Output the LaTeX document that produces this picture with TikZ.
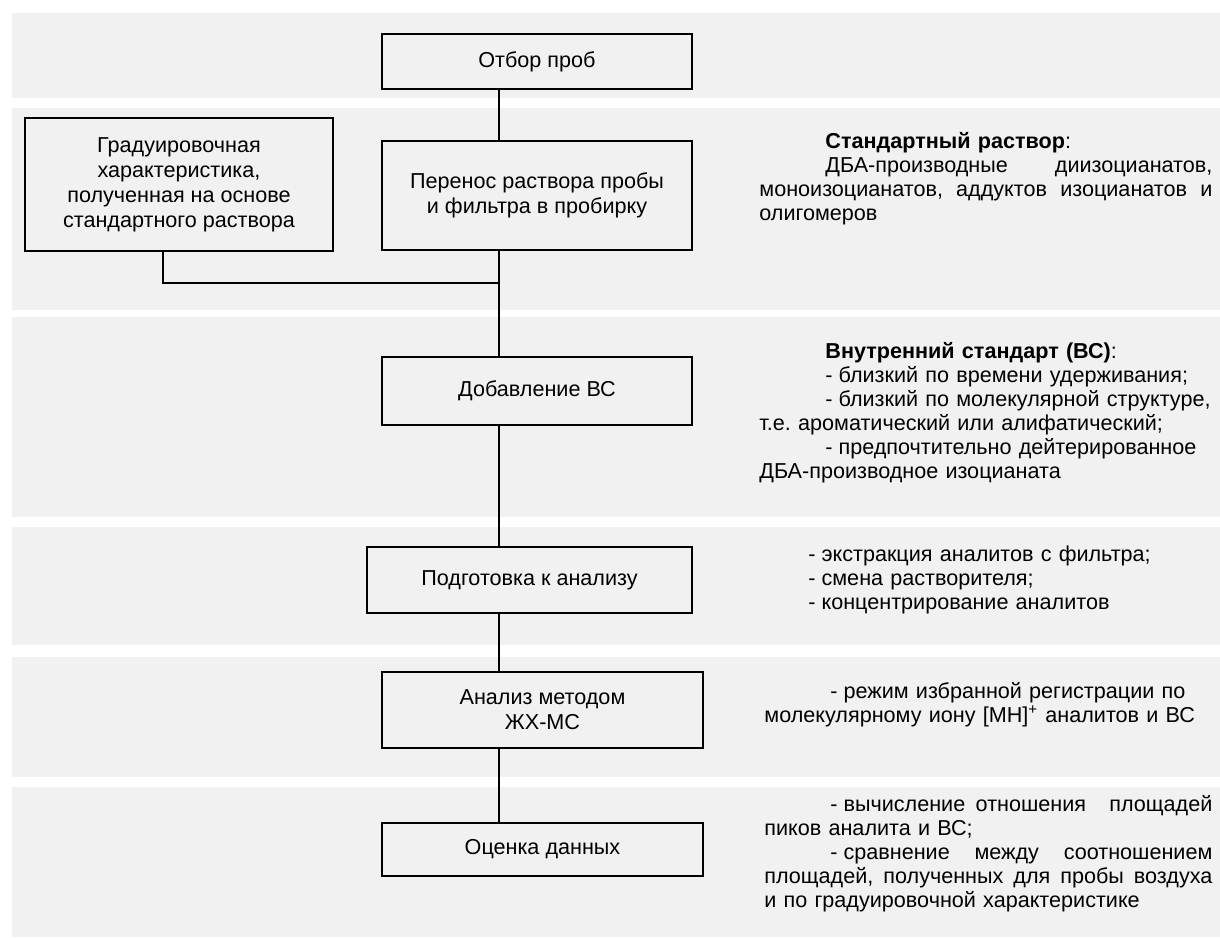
\documentclass[tikz,border=0pt]{standalone}
\usepackage{fontspec}
\setmainfont{Liberation Sans}
\usepackage{xcolor}
\definecolor{bandgray}{HTML}{F1F1F1}
% stretched (justified) line of given width
\newcommand{\jline}[2]{\leavevmode\hbox to #1{\spaceskip=0.28em plus 1fil\relax #2}}
% dash with a fixed space after it
\newcommand{\dsh}{-\kern3pt}
\frenchspacing

\begin{document}
\begin{tikzpicture}[x=0.5pt,y=-0.5pt,
	stage/.style={draw,line width=1pt,align=center,inner sep=0pt,font=\fontsize{10.8}{12.5}\selectfont},
	note/.style={anchor=north west,inner sep=0pt,align=left,font=\fontsize{10.8}{12}\selectfont\frenchspacing},
	link/.style={line width=1pt}]
		\useasboundingbox (0,0) rectangle (1220,937);
		% background bands
		\foreach \ya/\yb in {13/98,108/310,317/517,527/645,657/777,787/937}
			\fill [bandgray] (12,\ya) rectangle (1220,\yb);
		% stages
		\node [stage,minimum width=155pt,minimum height=27.5pt] (otbor) at (537,61.5) {Отбор проб};
		\node [stage,minimum width=155pt,minimum height=54.5pt] (perenos) at (537,195.5) {Перенос раствора пробы\\и фильтра в пробирку};
		\node [stage,minimum width=154pt,minimum height=66.5pt] (grad) at (179,184.5) {Градуировочная\\характеристика,\\полученная на основе\\стандартного раствора};
		\node [stage,minimum width=155pt,minimum height=34pt] (dobav) at (537,391) {Добавление ВС};
		\node [stage,minimum width=162.5pt,minimum height=33pt] (podgot) at (529.5,580) {Подготовка к анализу};
		\node [stage,minimum width=160.5pt,minimum height=38pt] (analiz) at (542.5,710) {Анализ методом\\ЖХ-МС};
		\node [stage,minimum width=160.5pt,minimum height=26.5pt] (ocenka) at (542.5,849.5) {Оценка данных};
		% connectors
		\coordinate (spine) at (499,0);
		\coordinate (gradtap) at (163,283);
		\draw [link] (otbor.south -| spine) -- (perenos.north -| spine);
		\draw [link] (perenos.south -| spine) -- (dobav.north -| spine);
		\draw [link] (gradtap |- grad.south) -- (gradtap) -- (gradtap -| spine);
		\draw [link] (dobav.south -| spine) -- (podgot.north -| spine);
		\draw [link] (podgot.south -| spine) -- (analiz.north -| spine);
		\draw [link] (analiz.south -| spine) -- (ocenka.north -| spine);
		% notes on the right
		\node [note,text width=226.5pt] (stdnote) at (759,131) {\strut\hspace*{33pt}\textbf{Стандартный раствор}:\\
			\hspace*{33pt}\jline{193.5pt}{ДБА-производные диизоцианатов,}\\
			\jline{226.5pt}{моноизоцианатов, аддуктов изоцианатов и}\\
			олигомеров};
		\node [note,text width=226.5pt] (isnote) at (759,341) {\strut\hspace*{33pt}\textbf{Внутренний стандарт (ВС)}:\\
			\hspace*{33pt}\dsh близкий по времени удерживания;\\
			\hspace*{33pt}\dsh близкий по молекулярной структуре,\\
			т.е. ароматический или алифатический;\\
			\hspace*{33pt}\dsh предпочтительно дейтерированное\\
			ДБА-производное изоцианата};
		\node [note,text width=200pt] (prepnote) at (808,544) {\strut\dsh экстракция аналитов с фильтра;\\
			\dsh смена растворителя;\\
			\dsh концентрирование аналитов};
		\node [note,text width=224pt] (msnote) at (764,681) {\strut\hspace*{33pt}\dsh режим избранной регистрации по\\
			молекулярному иону [МН]\textsuperscript{+} аналитов и ВС};
		\node [note,text width=224pt] (evalnote) at (764,794) {\strut\hspace*{33pt}\jline{191pt}{\dsh вычисление отношения\hspace{0pt plus 3fil} площадей}\\
			пиков аналита и ВС;\\
			\hspace*{33pt}\jline{191pt}{\dsh сравнение между соотношением}\\
			\jline{224pt}{площадей, полученных для пробы воздуха}\\
			и по градуировочной характеристике};
	\end{tikzpicture}
\end{document}
